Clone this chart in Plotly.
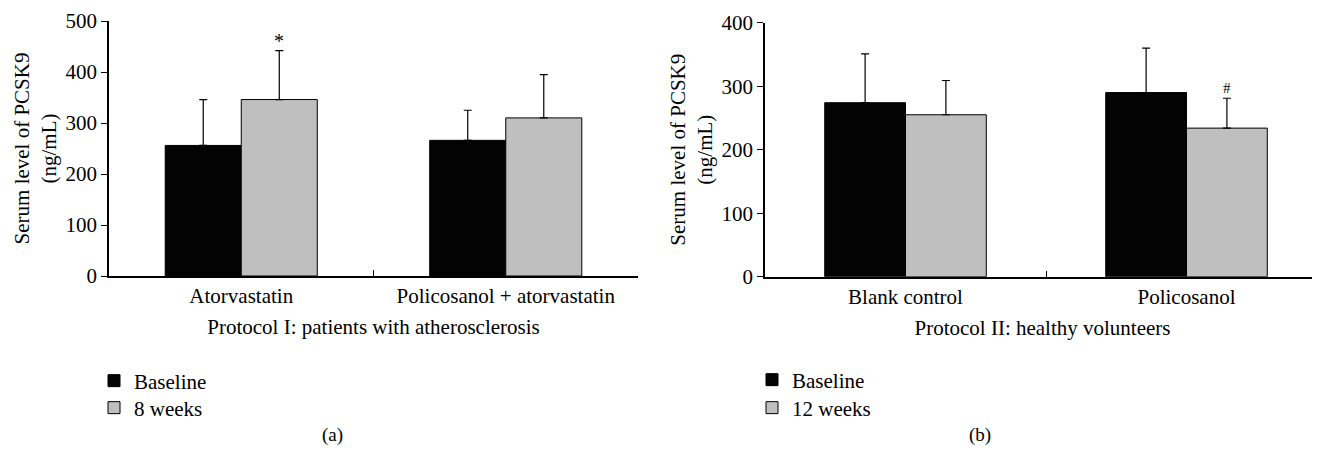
import plotly.graph_objects as go

# ---- data ----
cats_a = ["Atorvastatin", "Policosanol + atorvastatin"]
base_a = [256, 266]
base_a_err = [90, 59]
wk8_a = [346, 310]
wk8_a_err = [96, 85]

cats_b = ["Blank control", "Policosanol"]
base_b = [274, 290]
base_b_err = [77, 70]
wk12_b = [255, 234]
wk12_b_err = [54, 47]

yticks_a = [0, 100, 200, 300, 400, 500]
yticks_b = [0, 100, 200, 300, 400]

BLACK = "#030303"
GRAY = "#bfbfbf"
FONT = "Liberation Serif"
FS = 21
OFF = 8  # page body margin of the html page
W, H = 1320 - OFF, 457 - OFF


def px(sx):
    return (sx - OFF) / W


def py(sy):
    return 1 - (sy - OFF) / H


def err(vals):
    return dict(type="data", array=vals, arrayminus=[0] * len(vals), symmetric=False,
                color="black", thickness=1.2, width=4)


fig = go.Figure()
fig.add_bar(x=cats_a, y=base_a, name="Baseline", marker=dict(color=BLACK, line=dict(color="black", width=1)),
            error_y=err(base_a_err), xaxis="x", yaxis="y", legend="legend", showlegend=True)
fig.add_bar(x=cats_a, y=wk8_a, name="8 weeks", marker=dict(color=GRAY, line=dict(color="black", width=1)),
            error_y=err(wk8_a_err), xaxis="x", yaxis="y", legend="legend2", showlegend=True)
fig.add_bar(x=cats_b, y=base_b, name="Baseline", marker=dict(color=BLACK, line=dict(color="black", width=1)),
            error_y=err(base_b_err), xaxis="x2", yaxis="y2", legend="legend3", showlegend=True)
fig.add_bar(x=cats_b, y=wk12_b, name="12 weeks", marker=dict(color=GRAY, line=dict(color="black", width=1)),
            error_y=err(wk12_b_err), xaxis="x2", yaxis="y2", legend="legend4", showlegend=True)

axis_font = dict(family=FONT, size=FS, color="black")


def xax(domain, rng, title, width):
    return dict(domain=domain, range=rng, type="category", showline=True, linecolor="black", linewidth=width,
                ticks="inside", tickson="boundaries", ticklen=6, tickcolor="black", tickwidth=1,
                showgrid=False, zeroline=False, tickfont=axis_font, automargin=False,
                title=dict(text=title, font=axis_font, standoff=12), fixedrange=True)


def yax(domain, rng, tickvals, anchor):
    return dict(domain=domain, range=rng, tickvals=tickvals, showline=True, linecolor="black", linewidth=1.5,
                ticks="outside", ticklen=6, tickcolor="black", tickwidth=1.2, showgrid=False, zeroline=False,
                tickfont=axis_font, anchor=anchor, automargin=False,
                title=dict(text="Serum level of PCSK9<br>(ng/mL)", font=axis_font, standoff=3), fixedrange=True)


def leg(sx, sy):
    return dict(x=px(sx), y=py(sy), xanchor="left", yanchor="middle", bgcolor="rgba(0,0,0,0)",
                font=dict(family=FONT, size=FS), borderwidth=0, visible=True)


fig.update_layout(
    width=W, height=H, margin=dict(l=0, r=0, t=0, b=0),
    paper_bgcolor="white", plot_bgcolor="white", showlegend=True,
    barmode="group", bargap=0.425, bargroupgap=0,
    font=dict(family=FONT, size=FS, color="black"),
    xaxis=xax([px(109), px(638)], [-0.5, 1.5], "Protocol I: patients with atherosclerosis", 1.5),
    yaxis=yax([py(276), py(21)], [0, 500], yticks_a, "x"),
    xaxis2=dict(xax([px(765), 1.0], [-0.5, 1.475], "Protocol II: healthy volunteers", 2), anchor="y2"),
    yaxis2=yax([py(276.7), py(22.7)], [0, 400], yticks_b, "x2"),
    legend=leg(94, 381),
    legend2=leg(94, 408),
    legend3=leg(752, 380),
    legend4=leg(752, 408),
    annotations=[
        dict(text="*", x=0, y=wk8_a[0] + wk8_a_err[0], xref="x", yref="y", xshift=38, yshift=10,
             showarrow=False, font=dict(family=FONT, size=20)),
        dict(text="#", x=1, y=wk12_b[1] + wk12_b_err[1], xref="x2", yref="y2", xshift=40, yshift=10,
             showarrow=False, font=dict(family=FONT, size=15)),
        dict(text="(a)", x=px(320), y=py(448), xref="paper", yref="paper", showarrow=False,
             font=dict(family=FONT, size=19)),
        dict(text="(b)", x=px(993), y=py(448), xref="paper", yref="paper", showarrow=False,
             font=dict(family=FONT, size=19)),
    ],
)

fig.write_html("out.html", config={"displayModeBar": False})
